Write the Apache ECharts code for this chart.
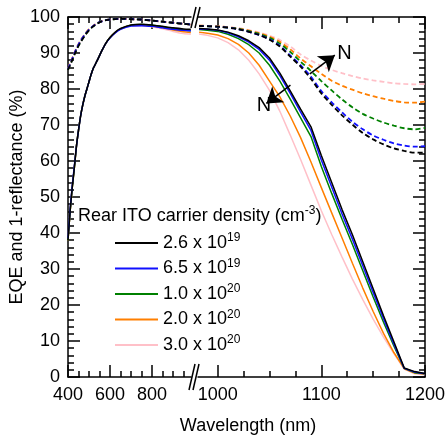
<!DOCTYPE html>
<html>
<head>
<meta charset="utf-8">
<script src="https://cdn.jsdelivr.net/npm/echarts@6/dist/echarts.min.js"></script>
<style>html,body{margin:0;padding:0;background:#fff}#c{width:448px;height:438px}</style>
</head>
<body>
<div id="c"></div>
<script>
// ---------- data ----------
const legendMantissa = ['2.6', '6.5', '1.0', '2.0', '3.0'];
const legendExponent = ['19', '19', '20', '20', '20'];
const seriesColors = ['#000000', '#1010ff', '#008000', '#ff7f00', '#ffc0c8'];

// left segment (400-985 nm), EQE (solid)
const wlLeftEQE = [400,410,420,430,440,450,460,470,480,490,500,510,520,540,560,580,600,625,650,700,750,800,850,900,950,985];
const eqeLeft26e19 = [38,46,52.5,58,64,68.5,72.5,75.5,78,80,82,84,85.7,88,90.5,92.7,94.3,95.8,96.8,97.8,98,97.8,97.4,97,96.7,96.6];
const eqeLeft65e19 = [38.5,46.5,53,58.5,64,68.5,72.5,75.5,78,80,82,84,85.7,88,90.5,92.7,94.2,95.6,96.6,97.5,97.6,97.4,97,96.6,96.3,96.2];
const eqeLeft10e20 = [38,46,52.5,58,64,68.5,72.5,75.5,78,80,82,84,85.7,88,90.5,92.7,94.3,95.7,96.7,97.7,97.9,97.7,97.3,96.8,96.4,96.2];
const eqeLeft20e20 = [38,46,52.5,58,64,68.5,72.5,75.5,78,80,82,84,85.7,88,90.5,92.7,94.3,95.7,96.7,97.7,97.8,97.5,97,96.4,95.9,95.7];
const eqeLeft30e20 = [38,46,52.5,58,64,68.5,72.5,75.5,78,80,82,84,85.7,88,90.5,92.7,94.3,95.7,96.6,97.6,97.6,97.3,96.7,96,95.4,95.2];

// left segment, 1-reflectance (dashed)
const wlLeftR = [400,420,440,460,480,500,520,540,560,580,600,650,700,750,800,850,900,950,985];
const refLeft26e19 = [85.3,88,90.8,93,94.8,96.3,97.4,98.2,98.8,99.1,99.3,99.5,99.4,99.3,99,98.7,98.4,98.1,97.9];
const refLeft65e19 = [85.6,88.4,91.2,93.4,95.1,96.5,97.5,98.3,98.8,99.1,99.3,99.5,99.4,99.3,99,98.7,98.4,98.1,97.9];
const refLeft10e20 = [85.4,88.1,90.9,93.1,94.9,96.4,97.4,98.2,98.8,99.1,99.3,99.5,99.4,99.3,99,98.7,98.4,98.1,97.9];
const refLeft20e20 = [85.7,88.5,91.3,93.5,95.2,96.6,97.5,98.3,98.8,99.1,99.3,99.5,99.4,99.3,99,98.7,98.4,98.1,97.9];
const refLeft30e20 = [85.5,88.3,91.1,93.3,95,96.5,97.5,98.3,98.8,99.1,99.3,99.5,99.4,99.3,99,98.7,98.4,98.1,97.9];

// right segment (981-1200 nm), EQE (solid)
const wlRightEQE = [982,990,1000,1010,1020,1030,1040,1050,1060,1070,1080,1090,1100,1110,1120,1130,1140,1150,1160,1170,1180,1190,1200];
const eqeRight26e19 = [96.8,96.7,96.4,95.8,94.8,93.4,91.5,88.6,84.4,79.5,74.4,69.5,61.5,54,46.5,39.5,32,24.5,17,9.8,2.5,1.5,1.0];
const eqeRight65e19 = [96.7,96.6,96.3,95.6,94.5,93,91,88,83.7,78.8,73.6,68.5,60.3,52.8,45.3,38.3,30.9,23.5,16.2,9.2,2.4,1.4,0.9];
const eqeRight10e20 = [96.5,96.3,96,95.2,94,92.3,90,86.6,82.2,77.2,72,66.8,58.5,51,43.8,36.8,29.5,22.2,15.2,8.6,2.4,1.2,0.9];
const eqeRight20e20 = [95.8,95.5,95,94,92.4,90,86.6,82.2,77.8,72.5,66.5,59.7,52.6,45.6,38.6,31.6,24.7,18.2,12.1,6.8,2.3,1.1,0.8];
const eqeRight30e20 = [95.3,94.9,94.2,92.9,90.9,88,84.2,79.6,73.8,67.2,60.4,53.3,46.2,39.6,33.3,27.2,21.5,16.1,11.1,6.5,2.2,0.9,0.6];

// right segment, 1-reflectance (dashed)
const wlRightR = [982,1000,1020,1040,1050,1060,1070,1080,1090,1100,1110,1120,1130,1140,1150,1160,1170,1180,1190,1200];
const refRight26e19 = [97.5,97.3,96.6,95,93.7,91.8,89,86.2,82.8,78.8,75.6,72.7,70.1,67.8,66,64.6,63.5,62.8,62.3,62.3];
const refRight65e19 = [97.5,97.3,96.6,95,93.8,92,89.3,86.6,83.4,79.4,76.3,73.5,70.9,68.8,67.1,65.9,64.9,64.3,64,64.1];
const refRight10e20 = [97.5,97.3,96.7,95.3,94.2,92.6,90.3,87.6,85,82.2,79.6,77.1,74.9,73.1,71.8,70.7,69.8,69.1,68.8,69.2];
const refRight20e20 = [97.6,97.4,96.8,95.5,94.5,93.1,91,88.5,86.3,84.2,82.3,80.9,79.8,78.8,78,77.3,76.7,76.3,76.2,76.5];
const refRight30e20 = [97.6,97.4,96.9,95.7,94.8,93.6,91.8,89.6,87.9,86.4,85.3,84.4,83.6,82.9,82.4,82,81.6,81.4,81.3,81.4];

// axis ticks
const leftMajorTicks = [400, 600, 800];
const leftMinorTicks = [450, 500, 550, 650, 700, 750, 850, 900, 950];
const rightMajorTicks = [1000, 1100, 1200];
const rightMinorTicks = [1025, 1050, 1075, 1125, 1150, 1175];

// arrow annotations [tail, head] in data coordinates (right panel)
const arrowUp = [[1088.9, 84.2], [1113, 89.4]];
const arrowDown = [[1070.2, 81.1], [1047, 76.0]];

// ---------- chart ----------
const FONT = 'Liberation Sans, Arial, sans-serif';
const eqeLeft = [eqeLeft26e19, eqeLeft65e19, eqeLeft10e20, eqeLeft20e20, eqeLeft30e20];
const refLeft = [refLeft26e19, refLeft65e19, refLeft10e20, refLeft20e20, refLeft30e20];
const eqeRight = [eqeRight26e19, eqeRight65e19, eqeRight10e20, eqeRight20e20, eqeRight30e20];
const refRight = [refRight26e19, refRight65e19, refRight10e20, refRight20e20, refRight30e20];
const names = legendMantissa.map((m, i) => m + ' x 10^' + legendExponent[i]);
const zip = (xs, ys) => xs.map((x, i) => [x, ys[i]]);

const series = [];
for (let i = 4; i >= 0; i--) {
  const c = seriesColors[i];
  series.push({type: 'line', name: 'R' + i, xAxisIndex: 0, yAxisIndex: 0, data: zip(wlLeftR, refLeft[i]),
    showSymbol: false, smooth: 0.3, color: c, lineStyle: {color: c, width: 1.8, type: [5, 3]}, z: 2});
  series.push({type: 'line', name: 'R' + i, xAxisIndex: 4, yAxisIndex: 1, data: zip(wlRightR, refRight[i]),
    showSymbol: false, smooth: 0.3, color: c, lineStyle: {color: c, width: 1.8, type: [5, 3]}, z: 2});
}
for (let i = 4; i >= 0; i--) {
  const c = seriesColors[i];
  series.push({type: 'line', name: names[i], xAxisIndex: 0, yAxisIndex: 0, data: zip(wlLeftEQE, eqeLeft[i]),
    showSymbol: false, smooth: 0.2, color: c, lineStyle: {color: c, width: 1.5}, z: 3});
  series.push({type: 'line', name: names[i], xAxisIndex: 4, yAxisIndex: 1, data: zip(wlRightEQE, eqeRight[i]),
    showSymbol: false, smooth: false, color: c, lineStyle: {color: c, width: 1.5}, z: 3});
}
// arrows
const arrowSeries = {type: 'line', name: 'arrows', xAxisIndex: 4, yAxisIndex: 1, data: [], silent: true, z: 5,
  markLine: {silent: true, animation: false, symbol: ['none', 'arrow'], symbolSize: 15,
    lineStyle: {color: '#000', width: 1.5, type: 'solid'},
    label: {show: true, position: 'end', formatter: 'N', color: '#000', fontSize: 20, fontFamily: FONT, distance: 3},
    data: [
      [{coord: arrowUp[0]}, {coord: arrowUp[1]}],
      [{coord: arrowDown[0]}, {coord: arrowDown[1]}]
    ]}};
series.push(arrowSeries);

const axisLine = {show: true, onZero: false, lineStyle: {color: '#000', width: 1.5}};
function xAx(grid, pos, min, max, ticks, len, withLabel, withLine) {
  return {type: 'value', gridIndex: grid, position: pos, min: min, max: max,
    axisLine: withLine ? axisLine : {show: false},
    axisTick: {show: true, inside: true, length: len, customValues: ticks, lineStyle: {color: '#000', width: 1.5}},
    axisLabel: withLabel ? {show: true, customValues: ticks, formatter: v => String(v), fontSize: 18, color: '#000', fontFamily: FONT, margin: 9}
                         : {show: false},
    splitLine: {show: false}};
}
const LMIN = 400, LMAX = 985.7, RMIN = 981, RMAX = 1200;
const xAxis = [
  xAx(0, 'bottom', LMIN, LMAX, leftMajorTicks, 12, true, true),
  xAx(0, 'bottom', LMIN, LMAX, leftMinorTicks, 6, false, false),
  xAx(0, 'top', LMIN, LMAX, leftMajorTicks, 12, false, true),
  xAx(0, 'top', LMIN, LMAX, leftMinorTicks, 6, false, false),
  xAx(1, 'bottom', RMIN, RMAX, rightMajorTicks, 12, true, true),
  xAx(1, 'bottom', RMIN, RMAX, rightMinorTicks, 6, false, false),
  xAx(1, 'top', RMIN, RMAX, rightMajorTicks, 12, false, true),
  xAx(1, 'top', RMIN, RMAX, rightMinorTicks, 6, false, false)
];
function yAx(grid, pos, withLabel) {
  return {type: 'value', gridIndex: grid, position: pos, min: 0, max: 100, interval: 10,
    axisLine: axisLine,
    axisTick: {show: true, inside: true, length: 12, lineStyle: {color: '#000', width: 1.5}},
    minorTick: {show: true, splitNumber: 5, length: 6, lineStyle: {color: '#000', width: 1.5}},
    axisLabel: withLabel ? {show: true, fontSize: 18, color: '#000', fontFamily: FONT, margin: 8} : {show: false},
    splitLine: {show: false}, minorSplitLine: {show: false},
    name: withLabel ? 'EQE and 1-reflectance (%)' : '', nameLocation: 'middle', nameGap: 37,
    nameTextStyle: {fontSize: 18, color: '#000', fontFamily: FONT}};
}

const option = {
  animation: false,
  backgroundColor: '#fff',
  grid: [
    {left: 68, top: 17, width: 123, height: 360},
    {left: 198, top: 17, width: 230, height: 360}
  ],
  xAxis: xAxis,
  yAxis: [yAx(0, 'left', true), yAx(1, 'right', false)],
  title: {
    text: '{a|Rear ITO carrier density (cm}{s|-3}{a|)}',
    left: 78, top: 205, padding: 0,
    textStyle: {fontWeight: 'normal', rich: {
      a: {fontSize: 18, fontWeight: 'normal', color: '#000', fontFamily: FONT, lineHeight: 22},
      s: {fontSize: 12, fontWeight: 'normal', color: '#000', fontFamily: FONT, verticalAlign: 'top', lineHeight: 22}
    }}
  },
  legend: {
    data: names, orient: 'vertical', left: 115, top: 232, padding: 0,
    icon: 'rect', itemWidth: 43, itemHeight: 2, itemGap: 5.5, selectedMode: false,
    formatter: function (n) { const i = names.indexOf(n); return '{m|' + legendMantissa[i] + ' x 10}{e|' + legendExponent[i] + '}'; },
    textStyle: {padding: [0, 0, 0, 0], rich: {
      m: {fontSize: 18, color: '#000', fontFamily: FONT, lineHeight: 22},
      e: {fontSize: 12, color: '#000', fontFamily: FONT, verticalAlign: 'top', lineHeight: 22}
    }}
  },
  graphic: [
    {type: 'text', x: 248, y: 426, style: {text: 'Wavelength (nm)', font: '18px ' + FONT, fill: '#000', align: 'center', verticalAlign: 'middle'}},
    {type: 'line', shape: {x1: 191, y1: 28, x2: 196, y2: 7}, style: {stroke: '#000', lineWidth: 1.5}},
    {type: 'line', shape: {x1: 195, y1: 28, x2: 200, y2: 7}, style: {stroke: '#000', lineWidth: 1.5}},
    {type: 'line', shape: {x1: 189, y1: 390, x2: 195, y2: 364}, style: {stroke: '#000', lineWidth: 1.5}},
    {type: 'line', shape: {x1: 193, y1: 390, x2: 199, y2: 364}, style: {stroke: '#000', lineWidth: 1.5}}
  ],
  series: series
};
const chart = echarts.init(document.getElementById('c'), null, {renderer: 'canvas'});
chart.setOption(option);
</script>
</body>
</html>
